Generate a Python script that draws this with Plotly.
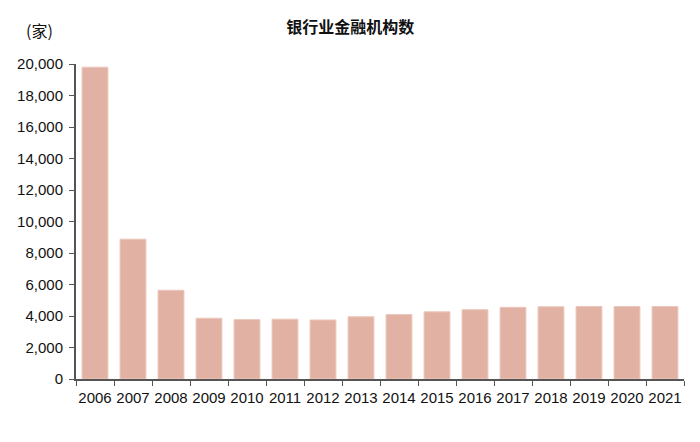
import plotly.graph_objects as go

years = [str(y) for y in range(2006, 2022)]
counts = [19797, 8877, 5634, 3857, 3769, 3800, 3747, 3949, 4089, 4262,
          4398, 4549, 4588, 4607, 4601, 4602]
y_ticks = list(range(0, 20001, 2000))

fig = go.Figure()

fig.add_trace(go.Bar(x=years, y=counts, marker_color='#E1B2A4',
                     marker_line=dict(color='#EBC6BA', width=1)))

# page body has an 8px margin, so everything is shifted up/left by 8
fig.update_layout(
    width=700, height=442,
    margin=dict(l=68, r=24, t=56, b=71, autoexpand=False),
    paper_bgcolor='white', plot_bgcolor='white',
    bargap=0.32, showlegend=False,
    font=dict(family='Liberation Sans, Arial, sans-serif', size=15, color='#111111'),
    title=dict(text='<b>银行业金融机构数</b>', x=0.489, xanchor='center', y=0.957, yanchor='middle',
               font=dict(family='Noto Sans CJK SC', size=16, color='#111111')),
)

fig.add_annotation(text='(家)', xref='paper', yref='paper', x=-0.034, y=1.108,
                   xanchor='right', yanchor='middle', showarrow=False,
                   font=dict(family='Noto Sans CJK SC, Liberation Sans', size=16, color='#111111'))

fig.update_xaxes(type='category', showline=True, linecolor='#555555', linewidth=2,
                 ticks='outside', tickson='boundaries', ticklen=5, tickcolor='#555555',
                 showgrid=False, tickangle=0, automargin=False, ticklabelstandoff=4,
                 tickfont=dict(size=15))
fig.update_yaxes(range=[0, 20000], tickvals=y_ticks, tickformat=',', showline=True,
                 linecolor='#555555', linewidth=2, ticks='outside', ticklen=5,
                 tickcolor='#555555', showgrid=False, zeroline=False, automargin=False,
                 ticklabelstandoff=3, tickfont=dict(size=15))

fig.write_html("out.html")
